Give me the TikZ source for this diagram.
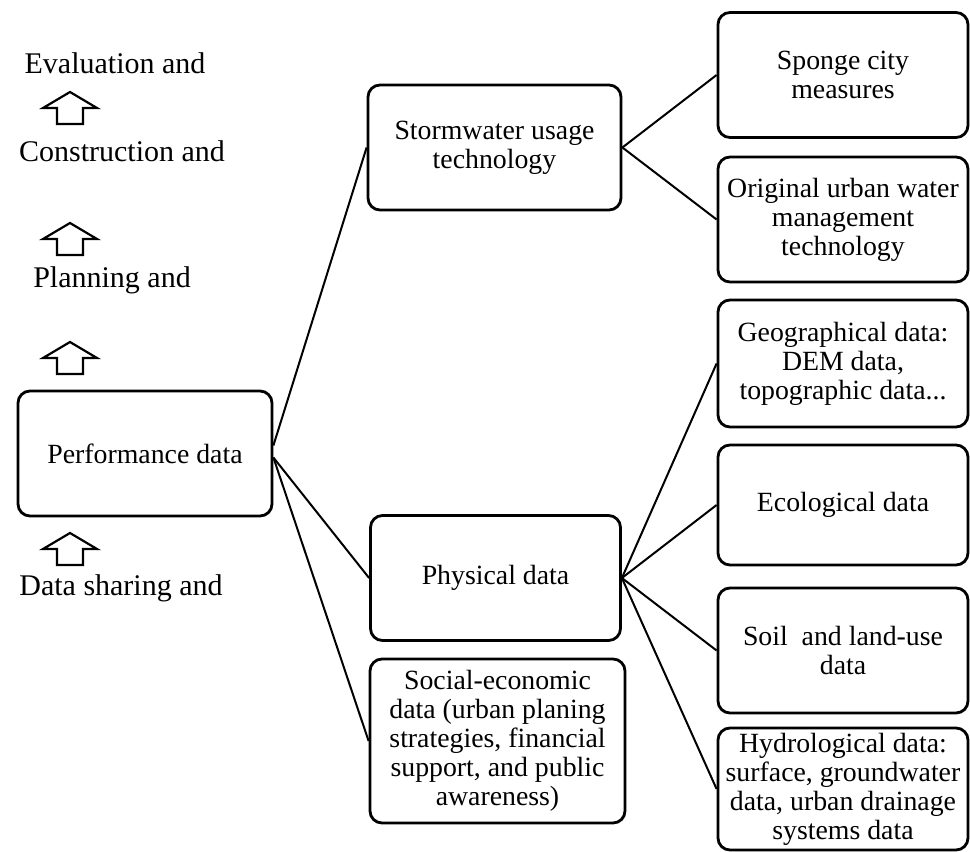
\documentclass[tikz,border=0pt]{standalone}
\usepackage{fontspec}
\setmainfont{Liberation Serif}
\usetikzlibrary{positioning}

\begin{document}
\begin{tikzpicture}[
    x=1pt, y=-1pt,
    databox/.style={draw, rounded corners=12pt, line width=2.8pt, minimum width=250pt, minimum height=125pt, align=center, inner sep=2pt, font=\fontsize{27.8}{29}\selectfont},
    stage/.style={anchor=base, inner sep=0pt, font=\fontsize{30}{32}\selectfont},
    link/.style={line width=2pt},
    upshape/.style={line width=2.2pt, line join=miter}
]
\fill[white] (0,0) rectangle (970,852);
\useasboundingbox (0,0) rectangle (970,852);

% Stages on the left
\node[stage] (evaluation) at (115,73) {Evaluation and};
\node[stage] (construction) at (122,161) {Construction and};
\node[stage] (planning) at (112,287) {Planning and};
\node[stage] (sharing) at (121,595) {Data sharing and};

% Hollow up arrows
\foreach \ty in {92,223,342,533}
  \draw[upshape] (70,\ty) -- ++(27,16) -- ++(-14,0) -- ++(0,16) -- ++(-26,0) -- ++(0,-16) -- ++(-14,0) -- cycle;

% Boxes
\node[databox, minimum width=254pt] (performance) at (145,453.5) {Performance data};
\node[databox, minimum width=253pt] (stormwater) at (494.5,147.5) {Stormwater usage\\technology};
\node[databox] (physical) at (495.5,578) {Physical data};
\node[databox, minimum width=255pt, minimum height=164pt] (social) at (497.5,741) {Social-economic\\data (urban planing\\strategies, financial\\support, and public\\awareness)};
\node[databox] (sponge) at (843,75) {Sponge city\\measures};
\node[databox] (original) at (843,219.5) {Original urban water\\management\\technology};
\node[databox, minimum height=127pt] (geographical) at (843,363.5) {Geographical data:\\DEM data,\\topographic data...};
\node[databox, minimum height=120pt] (ecological) at (843,505) {Ecological data};
\node[databox] (soil) at (843,650.5) {Soil\ \ and land-use\\data};
\node[databox, minimum height=122pt] (hydrological) at (843,789) {Hydrological data:\\surface, groundwater\\data, urban drainage\\systems data};

% Connectors
\draw[link] ([yshift=8pt]performance.east) -- (stormwater.west);
\draw[link] ([yshift=-4pt]performance.east) -- (physical.west);
\draw[link] ([yshift=-4pt]performance.east) -- (social.west);
\draw[link] (stormwater.east) -- (sponge.west);
\draw[link] (stormwater.east) -- (original.west);
\foreach \leaf in {geographical,ecological,soil,hydrological}
  \draw[link] (physical.east) -- (\leaf.west);
\end{tikzpicture}
\end{document}
